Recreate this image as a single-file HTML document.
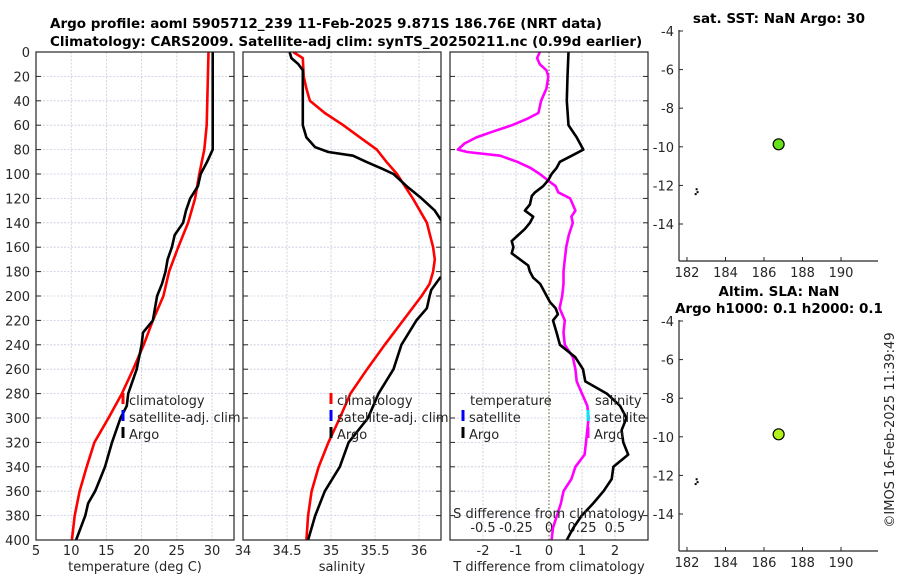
<!DOCTYPE html>
<html><head><meta charset="utf-8"><style>
html,body{margin:0;padding:0;background:#fff;}
svg{display:block;font-family:"DejaVu Sans","Liberation Sans",sans-serif;}
.tk{font-size:13px;fill:#262626;}
.ttl{font-size:13.5px;font-weight:bold;fill:#000;}
</style></head><body>
<svg id="fig" width="900" height="580" viewBox="0 0 900 580">
<defs>
<clipPath id="c1"><rect x="36" y="52" width="198" height="488"/></clipPath>
<clipPath id="c2"><rect x="243" y="52" width="198" height="488"/></clipPath>
<clipPath id="c3"><rect x="450" y="52" width="198" height="488"/></clipPath>
</defs>
<text class="ttl" x="50" y="28">Argo profile: aoml 5905712_239 11-Feb-2025 9.871S 186.76E (NRT data)</text>
<text class="ttl" x="50" y="46">Climatology: CARS2009. Satellite-adj clim: synTS_20250211.nc (0.99d earlier)</text>
<g id="g"></g>
<text class="ttl" x="779" y="23" text-anchor="middle">sat. SST: NaN Argo: 30</text>
<text class="ttl" x="779" y="296" text-anchor="middle">Altim. SLA: NaN</text>
<text class="ttl" x="779" y="313" text-anchor="middle">Argo h1000: 0.1 h2000: 0.1</text>
<text class="tk" transform="translate(894,430) rotate(-90)" text-anchor="middle">©IMOS 16-Feb-2025 11:39:49</text>
</svg>
<script>
// ---- data ----
const tempClimDepth = [0,60,80,100,120,140,160,180,200,220,240,260,280,300,320,340,360,380,400];
const tempClimVal   = [29.5,29.25,28.9,28.2,27.6,26.6,25.2,23.9,23.1,21.6,20.3,18.8,17.2,15.3,13.3,12.2,11.2,10.5,10.1];
const tempArgoDepth = [0,80,90,100,110,120,130,140,150,160,170,180,190,200,210,220,230,240,260,280,290,300,320,340,350,360,370,380,400];
const tempArgoVal   = [30.1,30.1,29.3,28.4,28.0,26.9,26.3,25.9,24.7,24.3,23.7,23.4,22.9,22.2,21.9,21.6,20.2,20.0,19.3,18.1,17.9,17.0,15.8,14.8,14.1,13.4,12.4,12.0,10.7];
const salClimDepth = [0,5,20,30,40,50,60,70,80,90,100,120,140,160,170,180,190,200,220,240,260,280,300,320,340,360,380,400];
const salClimVal   = [34.57,34.68,34.69,34.72,34.76,34.93,35.14,35.33,35.52,35.63,35.75,35.93,36.09,36.16,36.18,36.16,36.12,36.03,35.82,35.61,35.41,35.22,35.10,34.97,34.86,34.78,34.74,34.72];
const salArgoDepth = [0,5,10,15,20,60,70,78,82,85,90,95,100,110,120,130,140,160,183,185,195,200,210,220,240,260,280,300,320,340,360,380,400];
const salArgoVal   = [34.53,34.55,34.63,34.68,34.68,34.68,34.72,34.82,34.97,35.25,35.40,35.56,35.71,35.86,36.03,36.18,36.27,36.4,36.3,36.24,36.14,36.12,36.09,35.97,35.80,35.71,35.54,35.42,35.20,35.10,34.93,34.82,34.74];
const tDiffDepth = [0,20,40,60,70,80,85,90,95,100,105,110,115,118,125,130,135,140,145,150,155,160,165,170,175,180,185,190,200,205,210,215,220,230,240,250,260,270,280,290,300,310,320,330,340,350,360,370,380,390,400];
const tDiffVal   = [0.59,0.56,0.54,0.59,0.84,1.04,0.69,0.33,0.23,0.08,-0.02,-0.18,-0.42,-0.52,-0.58,-0.73,-0.48,-0.58,-0.73,-0.93,-1.13,-1.08,-1.13,-0.88,-0.63,-0.58,-0.48,-0.27,-0.07,0.03,0.2,0.27,0.12,0.23,0.33,0.79,1.03,1.1,1.75,2.15,2.35,2.2,2.25,2.4,1.95,1.9,1.65,1.34,0.99,0.74,0.54];
const sDiffDepth = [0,5,10,15,20,30,40,50,55,60,65,70,75,80,82,85,90,95,100,105,110,115,120,125,130,135,140,150,160,170,180,190,200,210,220,230,240,250,260,270,280,290,300,310,320,330,340,350,360,370,380,390,400];
const sDiffVal   = [-0.07,-0.09,-0.07,-0.02,-0.005,-0.02,-0.06,-0.08,-0.17,-0.28,-0.42,-0.55,-0.64,-0.69,-0.62,-0.37,-0.24,-0.14,-0.07,-0.01,0.05,0.07,0.16,0.18,0.2,0.17,0.18,0.15,0.13,0.12,0.11,0.11,0.1,0.08,0.12,0.11,0.12,0.18,0.2,0.21,0.25,0.29,0.3,0.29,0.28,0.27,0.2,0.17,0.11,0.09,0.06,0.03,0.02];
const depthTicks = [0,20,40,60,80,100,120,140,160,180,200,220,240,260,280,300,320,340,360,380,400];
const tempTicks = [5,10,15,20,25,30];
const salTicks = [34,34.5,35,35.5,36];
const salTickLabels = ['34','34.5','35','35.5','36'];
const tDiffTicks = [-2,-1,0,1,2];
const sDiffTicks = [-0.5,-0.25,0,0.25,0.5];
const mapLonTicks = [182,184,186,188,190];
const mapLatTicks = [-4,-6,-8,-10,-12,-14];
const argoLon = [186.76], argoLat = [-9.871];
const trackLon = [182.5,182.55,182.45], trackLat = [-12.2,-12.35,-12.45];

// ---- helpers ----
const NS='http://www.w3.org/2000/svg';
const G=document.getElementById('g');
function el(tag,attrs,parent){const e=document.createElementNS(NS,tag);for(const k in attrs)e.setAttribute(k,attrs[k]);(parent||G).appendChild(e);return e;}
const Y0=52,Y1=540;
const yD=d=>Y0+(Y1-Y0)*d/400;
function lin(d0,d1,p0,p1){return v=>p0+(v-d0)*(p1-p0)/(d1-d0);}
const xT=lin(5,30,36,212);
const xS=lin(34,36,243,419);
const xTD=lin(0,1,549,582);
const xSD=lin(0,0.5,549,615);
const panels=[{x:36,c:'c1'},{x:243,c:'c2'},{x:450,c:'c3'}];

function line(xs,ys,sx,color,clip,name,w){
  const pts=xs.map((v,i)=>sx(v).toFixed(1)+','+yD(ys[i]).toFixed(1)).join(' ');
  const p=el('polyline',{points:pts,fill:'none',stroke:color,'stroke-width':w||2.6,'stroke-linejoin':'round','clip-path':'url(#'+clip+')'});
  
  
}

// grids & frames
panels.forEach((p,pi)=>{
  depthTicks.forEach(d=>{
    el('line',{x1:p.x,x2:p.x+198,y1:yD(d),y2:yD(d),stroke:'#c6cbe0','stroke-width':0.8,'stroke-dasharray':'2,1.5'});
    el('line',{x1:p.x,x2:p.x+5,y1:yD(d),y2:yD(d),stroke:'#262626','stroke-width':1});
    el('line',{x1:p.x+193,x2:p.x+198,y1:yD(d),y2:yD(d),stroke:'#262626','stroke-width':1});
  });
});
tempTicks.forEach((t,i)=>{ if(i>0) el('line',{x1:xT(t),x2:xT(t),y1:Y0,y2:Y1,stroke:'#c6cbe0','stroke-width':0.8,'stroke-dasharray':'2,1.5'});
  const tx=el('text',{x:xT(t),y:555,'text-anchor':'middle',class:'tk'});tx.textContent=t;
  
  });
salTicks.forEach((t,i)=>{ if(i>0) el('line',{x1:xS(t),x2:xS(t),y1:Y0,y2:Y1,stroke:'#c6cbe0','stroke-width':0.8,'stroke-dasharray':'2,1.5'});
  const tx=el('text',{x:xS(t),y:555,'text-anchor':'middle',class:'tk'});tx.textContent=salTickLabels[i];
  
  });
tDiffTicks.forEach(t=>{ if(t!==0) el('line',{x1:xTD(t),x2:xTD(t),y1:Y0,y2:Y1,stroke:'#c6cbe0','stroke-width':0.8,'stroke-dasharray':'2,1.5'});
  const tx=el('text',{x:xTD(t),y:555,'text-anchor':'middle',class:'tk'});tx.textContent=t;
  
  });
sDiffTicks.forEach(t=>{const tx=el('text',{x:xSD(t),y:532,'text-anchor':'middle',class:'tk'});tx.textContent=t;
  
  });
el('line',{x1:xTD(0),x2:xTD(0),y1:Y0,y2:Y1,stroke:'#4a5a1a','stroke-width':1,'stroke-dasharray':'1.5,2'});
depthTicks.forEach(d=>{const tx=el('text',{x:30,y:yD(d)+5,'text-anchor':'end',class:'tk'});tx.textContent=d;
  
  });

// series
line(tempClimVal,tempClimDepth,xT,'#ff0000','c1','temp-climatology-line');
line(tempArgoVal,tempArgoDepth,xT,'#000','c1','temp-argo-line');
line(salClimVal,salClimDepth,xS,'#ff0000','c2','salinity-climatology-line');
line(salArgoVal,salArgoDepth,xS,'#000','c2','salinity-argo-line');
line(sDiffVal,sDiffDepth,xSD,'#ff00ff','c3','s-diff-line');
line(tDiffVal,tDiffDepth,xTD,'#000','c3','t-diff-line');

panels.forEach(p=>{el('rect',{x:p.x,y:Y0,width:198,height:Y1-Y0,fill:'none',stroke:'#262626','stroke-width':1.2});});

// axis labels
[[135,'temperature (deg C)','temp-x-axis-title'],[342,'salinity','salinity-x-axis-title'],[549,'T difference from climatology','t-diff-x-axis-title']].forEach(a=>{
  const t=el('text',{x:a[0],y:571,'text-anchor':'middle',class:'tk'});t.textContent=a[1];
  
  });
{const t=el('text',{x:549,y:518,'text-anchor':'middle',class:'tk'});t.textContent='S difference from climatology';
 
 }

// legends
function leg(x,y,color,label,name){
  el('rect',{x:x-1.5,y:y-12,width:3,height:11,fill:color});
  const t=el('text',{x:x+6,y:y,class:'tk'});t.textContent=label;
  
  
}
leg(123,405,'#ff0000','climatology','legend-climatology');
leg(123,422,'#0000ff','satellite-adj. clim','legend-satellite-adj');
leg(123,439,'#000','Argo','legend-argo');
leg(331,405,'#ff0000','climatology','legend-climatology-2');
leg(331,422,'#0000ff','satellite-adj. clim','legend-satellite-adj-2');
leg(331,439,'#000','Argo','legend-argo-2');
{const t=el('text',{x:470,y:405,class:'tk'});t.textContent='temperature';
 
 }
leg(463,422,'#0000ff','satellite','legend-t-satellite');
leg(463,439,'#000','Argo','legend-t-argo');
{const t=el('text',{x:595,y:405,class:'tk'});t.textContent='salinity';
 
 }
leg(588,422,'#00e5ee','satellite','legend-s-satellite');
leg(588,439,'#ff00ff','Argo','legend-s-argo');

// maps
function map(top,fill,name){
  const bot=top+230;
  const xl=lin(182,190,687,841), yl=lin(-4,-14,top,top+193);
  el('line',{x1:679,x2:679,y1:top-1,y2:bot,stroke:'#262626','stroke-width':1.2});
  el('line',{x1:679,x2:878,y1:bot,y2:bot,stroke:'#262626','stroke-width':1.2});
  mapLatTicks.forEach(v=>{el('line',{x1:679,x2:683,y1:yl(v),y2:yl(v),stroke:'#262626'});
    const t=el('text',{x:674,y:yl(v)+5,'text-anchor':'end',class:'tk'});t.textContent=v;
    
    });
  mapLonTicks.forEach(v=>{el('line',{x1:xl(v),x2:xl(v),y1:bot,y2:bot-4,stroke:'#262626'});
    const t=el('text',{x:xl(v),y:bot+16,'text-anchor':'middle',class:'tk'});t.textContent=v;
    
    });
  trackLon.forEach((v,i)=>{const d=el('rect',{x:xl(v)-1,y:yl(trackLat[i])-1,width:2,height:2,fill:'#000'});
    
    });
  argoLon.forEach((v,i)=>{const c=el('circle',{cx:xl(v),cy:yl(argoLat[i]),r:5.5,fill:fill,stroke:'#000','stroke-width':1.2});
    
    });
}
map(31,'#66e01a','sst-argo-marker');
map(321,'#b4f01a','sla-argo-marker');
</script>
</body></html>
